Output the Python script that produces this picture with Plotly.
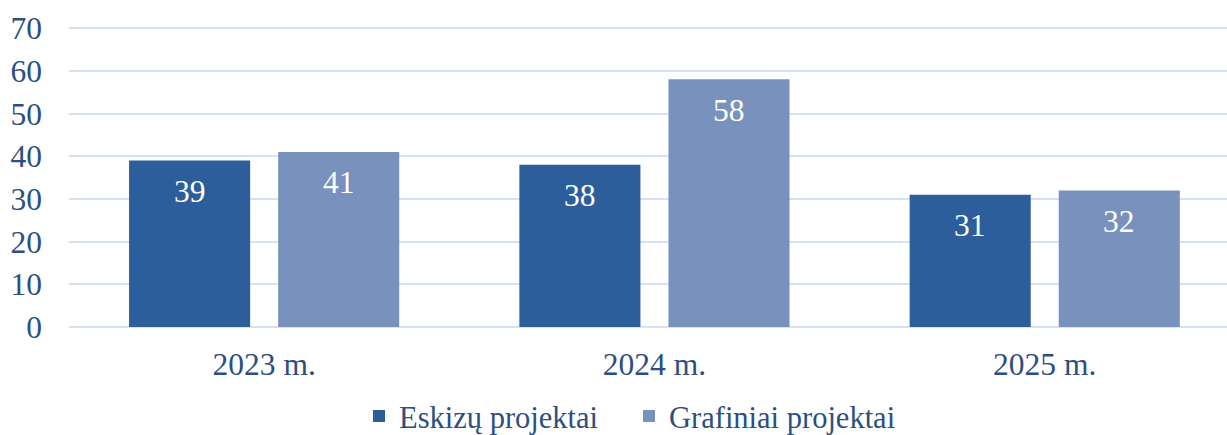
import plotly.graph_objects as go

categories = ["2023 m.", "2024 m.", "2025 m."]
eskizu = [39, 38, 31]
grafiniai = [41, 58, 32]
series_names = ["Eskizų projektai", "Grafiniai projektai"]
y_ticks = [0, 10, 20, 30, 40, 50, 60, 70]

FONT = "Liberation Serif"
TXT = "#2C4F80"
FS = 31.5

fig = go.Figure()
fig.add_trace(go.Bar(
    x=categories, y=eskizu, name=series_names[0],
    marker=dict(color="#2C5E9C", line=dict(width=0)),
))
fig.add_trace(go.Bar(
    x=categories, y=grafiniai, name=series_names[1],
    marker=dict(color="#7891BD", line=dict(width=0)),
))

# value labels inside near top of each bar
for i, c in enumerate(categories):
    for vals, sh in ((eskizu, -74.5), (grafiniai, 74.5)):
        fig.add_annotation(
            x=c, y=vals[i], xshift=sh, yshift=-31, text=str(vals[i]),
            showarrow=False, font=dict(family=FONT, size=FS, color="white"),
        )

fig.update_layout(
    width=1227, height=435,
    margin=dict(l=69, r=0, t=26, b=108, autoexpand=False),
    paper_bgcolor="white", plot_bgcolor="white",
    barmode="group", bargap=0.236, bargroupgap=0.188,
    font=dict(family=FONT, size=FS, color=TXT),
    showlegend=True,
    legend=dict(orientation="h", x=0.4836, xanchor="center", y=-0.296, yanchor="middle",
                font=dict(family=FONT, size=30.5, color=TXT), itemwidth=30,
                entrywidth=225, entrywidthmode="pixels",
                traceorder="normal"),
    xaxis=dict(range=[-0.5, 2.467], showgrid=False, showline=False, ticks="",
               automargin=False, ticklabelstandoff=15,
               tickfont=dict(family=FONT, size=FS, color=TXT)),
    yaxis=dict(range=[0, 70.5], tickvals=y_ticks, showgrid=True, gridcolor="#D6E1F2",
               gridwidth=2, zeroline=True, zerolinecolor="#D6E1F2", zerolinewidth=2,
               showline=False, ticks="", ticklabelstandoff=26, automargin=False,
               tickfont=dict(family=FONT, size=FS, color=TXT)),
)

fig.write_html("out.html", config={"displayModeBar": False},
               post_script="document.body.style.margin='0';")
